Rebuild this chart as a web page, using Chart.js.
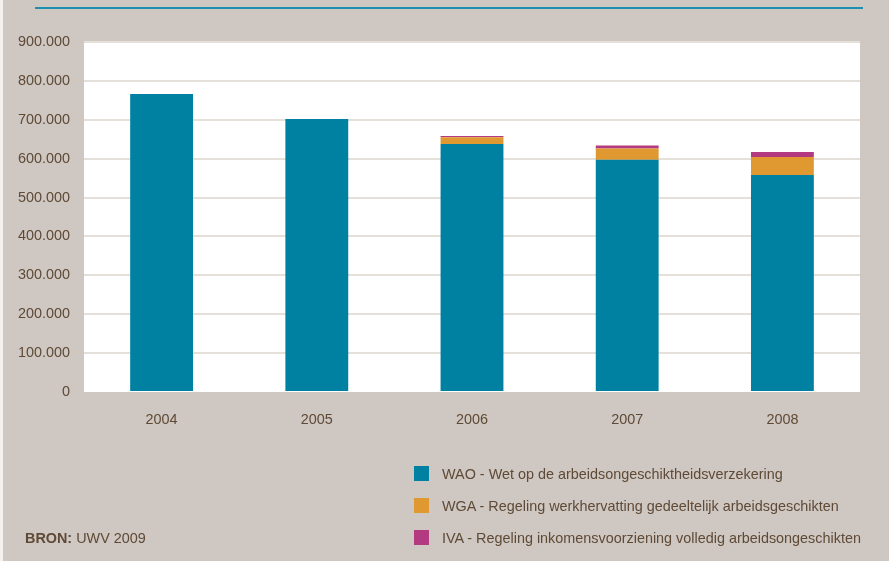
<!DOCTYPE html>
<html>
<head>
<meta charset="utf-8">
<script src="https://cdn.jsdelivr.net/npm/chart.js@4/dist/chart.umd.min.js"></script>
<style>
  html, body { margin: 0; padding: 0; background: #cfc7c1; }
  #wrap { position: relative; width: 889px; height: 561px; background: #cfc7c1; overflow: hidden; }
  #edge { position: absolute; left: 0; top: 0; width: 3px; height: 561px; background: #f4f1ee; }
  #topline { position: absolute; left: 35px; top: 7px; width: 828px; height: 2px; background: #1f8fae; }
  #chart { position: absolute; left: 0; top: 0; }
  .legend { position: absolute; left: 414px; top: 465px; font-family: "Liberation Sans", Arial, sans-serif; font-size: 14.4px; color: #5e4a36; }
  .legend div { height: 32px; line-height: 18px; white-space: nowrap; }
  .legend span { display: inline-block; width: 15px; height: 15px; margin-right: 13px; vertical-align: -2px; }
  #source { position: absolute; left: 25px; top: 530px; font-family: "Liberation Sans", Arial, sans-serif; font-size: 14.4px; color: #5e4a36; }
</style>
</head>
<body>
<div id="wrap">
  <div id="edge"></div>
  <div id="topline"></div>
  <canvas id="chart" width="889" height="561"></canvas>
  <div class="legend" id="legend"></div>
  <div id="source"><b>BRON:</b> UWV 2009</div>
</div>
<script>
const years = ['2004', '2005', '2006', '2007', '2008'];
const wao = [766000, 702000, 638000, 597000, 558000];
const wga = [0, 0, 17000, 29000, 46000];
const iva = [0, 0, 3000, 8000, 13000];
const seriesNames = [
    'WAO - Wet op de arbeidsongeschiktheidsverzekering',
    'WGA - Regeling werkhervatting gedeeltelijk arbeidsgeschikten',
    'IVA - Regeling inkomensvoorziening volledig arbeidsongeschikten'
];
const seriesColors = ['#0081a1', '#e09830', '#b33a80'];

function formatNumber(v) {
    return String(v).replace(/\B(?=(\d{3})+(?!\d))/g, '.');
}

// white plot background
const plotBackground = {
    id: 'plotBackground',
    beforeDraw(chart) {
        const a = chart.chartArea;
        const ctx = chart.ctx;
        ctx.save();
        ctx.fillStyle = '#ffffff';
        ctx.fillRect(a.left, a.top, a.right - a.left, a.bottom - a.top);
        ctx.restore();
    }
};

const textColor = '#5e4a36';
const fontFamily = '"Liberation Sans", Arial, sans-serif';

new Chart(document.getElementById('chart'), {
    type: 'bar',
    data: {
        labels: years,
        datasets: [wao, wga, iva].map((d, i) => ({
            label: seriesNames[i],
            data: d,
            backgroundColor: seriesColors[i],
            borderWidth: 0,
            categoryPercentage: 1,
            barPercentage: 0.405
        }))
    },
    options: {
        responsive: false,
        animation: false,
        layout: { padding: { top: 42, right: 29, bottom: 129, left: 0 } },
        plugins: {
            legend: { display: false },
            tooltip: { enabled: false }
        },
        scales: {
            x: {
                stacked: true,
                grid: { display: false, drawTicks: false },
                border: { display: false },
                ticks: { color: textColor, font: { family: fontFamily, size: 14.4 }, padding: 19 },
                afterFit(scale) { scale.height = 40; }
            },
            y: {
                stacked: true,
                min: 0,
                max: 900000,
                grid: {
                    color: ctx => ctx.tick && ctx.tick.value === 0 ? 'rgba(0,0,0,0)' : '#e6e0db',
                    lineWidth: 2,
                    drawTicks: false
                },
                border: { display: false },
                ticks: {
                    stepSize: 100000,
                    color: textColor,
                    font: { family: fontFamily, size: 14.4 },
                    padding: 14,
                    callback: v => formatNumber(v)
                },
                afterFit(scale) { scale.width = 84; }
            }
        }
    },
    plugins: [plotBackground]
});

const legend = document.getElementById('legend');
seriesNames.forEach((name, i) => {
    const row = document.createElement('div');
    const box = document.createElement('span');
    box.style.background = seriesColors[i];
    row.appendChild(box);
    row.appendChild(document.createTextNode(name));
    legend.appendChild(row);
});
</script>
</body>
</html>
